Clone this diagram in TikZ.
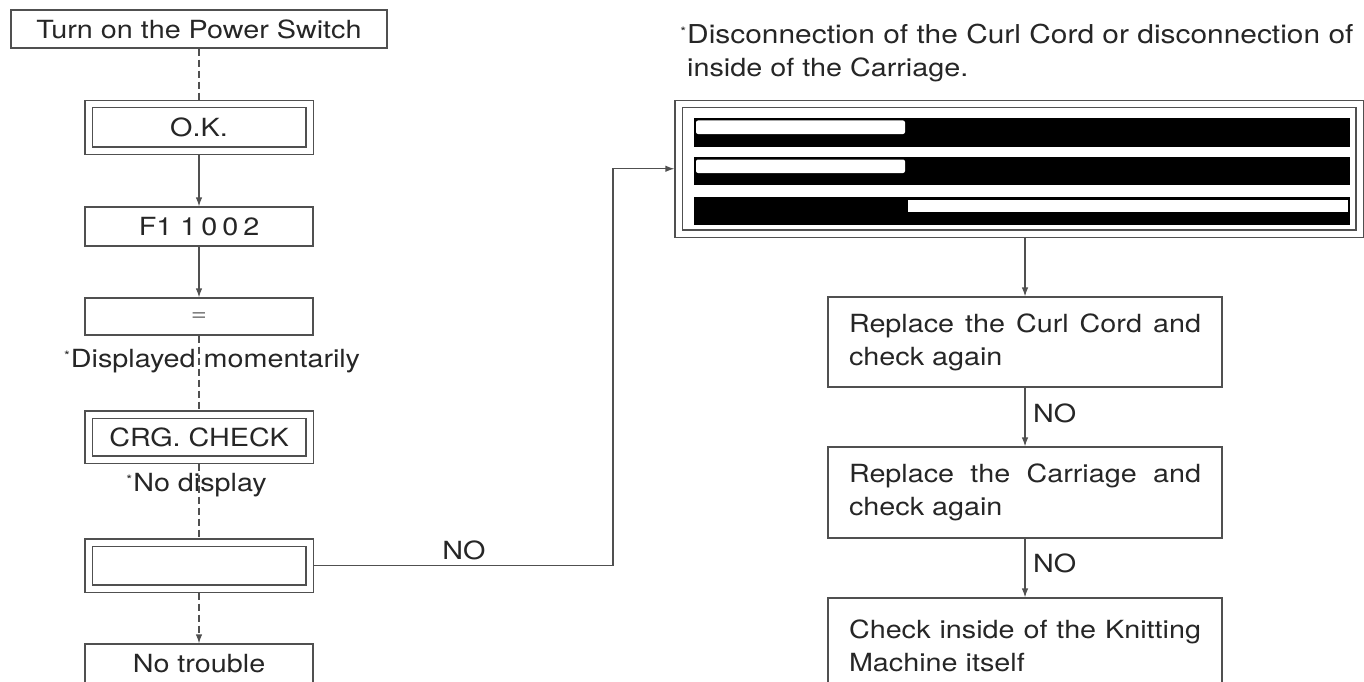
\documentclass[tikz,border=0pt]{standalone}
\usepackage{fontspec}
\newfontfamily\hv[FakeStretch=1.15]{TeX Gyre Heros}
\usetikzlibrary{arrows.meta}
\definecolor{ink}{HTML}{262626}
\definecolor{ln}{HTML}{505050}
\hyphenpenalty=10000
\exhyphenpenalty=10000
\newcommand\mystar{\llap{\raisebox{7pt}{\fontsize{13}{13}\selectfont*}\kern1pt}}
\tikzset{
  txt/.style={font=\hv\fontsize{25}{33}\selectfont, text=ink, inner sep=0pt},
  box/.style={draw=ln, line width=1.2pt, rectangle, inner sep=0pt, font=\hv\fontsize{25}{33}\selectfont, text=ink},
  dbox/.style={box, double, double distance=6pt},
  con/.style={draw=ln, line width=1.2pt},
  arr/.style={con, -{Latex[length=9pt,width=6.5pt]}},
  dsh/.style={con, dash pattern=on 7pt off 4pt},
}
\begin{document}
\begin{tikzpicture}[x=1pt,y=-1pt]
\useasboundingbox (0,0) rectangle (1364,682);
% left column
\node[box, minimum width=376pt, minimum height=38pt] (turn) at (199,29) {Turn on the Power Switch};
\node[dbox, minimum width=221pt, minimum height=46.5pt] (ok) at (199,127.25) {O.K.};
\node[box, minimum width=228pt, minimum height=39pt] (f1) at (199,226.5) {F1\kern8pt 1\kern5pt 0\kern5pt 0\kern5pt 2};
\node[box, minimum width=228pt, minimum height=37pt, font=\hv\fontsize{24}{26}\selectfont, text=gray] (eq) at (199,316.5) {=};
\node[txt] (disp) at (215.5,361) {\mystar Displayed momentarily};
\node[dbox, minimum width=221pt, minimum height=45pt] (crg) at (199,437) {CRG. CHECK};
\node[txt] (nodisp) at (200,485) {\mystar No display};
\node[dbox, minimum width=221pt, minimum height=46pt] (emp) at (199,565.5) {};
\node[box, minimum width=228pt, minimum height=40pt] (nt) at (199,664) {No trouble};
% right column
\node[txt, anchor=north west, align=left] (head) at (687,24) {\fontsize{26}{33}\selectfont\mystar Disconnection of the Curl Cord or disconnection of\\inside of the Carriage.};
\node[dbox, minimum width=681pt, minimum height=129.5pt] (big) at (1019,168.75) {};
\fill[black] (694,118) rectangle (1350,147);
\fill[white, rounded corners=2pt] (696,120.5) rectangle (905,134);
\fill[black] (694,157) rectangle (1350,185);
\fill[white, rounded corners=2pt] (696,159.5) rectangle (905,173);
\fill[black] (694,197) rectangle (1350,225);
\fill[white] (908,199.5) rectangle (1348,212);
\node[box, minimum width=394pt, minimum height=90pt, text width=352pt, align=justify] (b1) at (1025,342) {Replace the Curl Cord and check again};
\node[box, minimum width=394pt, minimum height=91pt, text width=352pt, align=justify] (b2) at (1025,492.5) {Replace the Carriage and check again};
\node[box, minimum width=394pt, minimum height=96pt, text width=352pt, align=justify] (b3) at (1025,646) {Check inside of the Knitting Machine itself};
\node[txt, anchor=west] (no1) at (1033,413) {NO};
\node[txt, anchor=west] (no2) at (1033,563) {NO};
\node[txt] (nomid) at (464,550) {NO};
\coordinate (bend) at (613,566);
% connectors
\draw[dsh, shorten >=3.5pt] (turn.south) -- (ok.north);
\draw[arr, shorten <=3.5pt] (ok.south) -- (f1.north);
\draw[arr] (f1.south) -- (eq.north);
\draw[dsh, shorten >=3.5pt] (eq.south) -- (crg.north);
\draw[dsh, shorten <=3.5pt, shorten >=3.5pt] (crg.south) -- (emp.north);
\draw[dsh, -{Latex[length=9pt,width=6.5pt]}, shorten <=3.5pt] (emp.south) -- (nt.north);
\draw[arr, shorten <=3.5pt, shorten >=3.5pt] (emp.east) -- (emp.east -| bend) -- (bend |- big.west) -- (big.west);
\draw[arr, shorten <=3.5pt] (b1.north |- big.south) -- (b1.north);
\draw[arr] (b1.south) -- (b2.north);
\draw[arr] (b2.south) -- (b3.north);
\end{tikzpicture}
\end{document}
